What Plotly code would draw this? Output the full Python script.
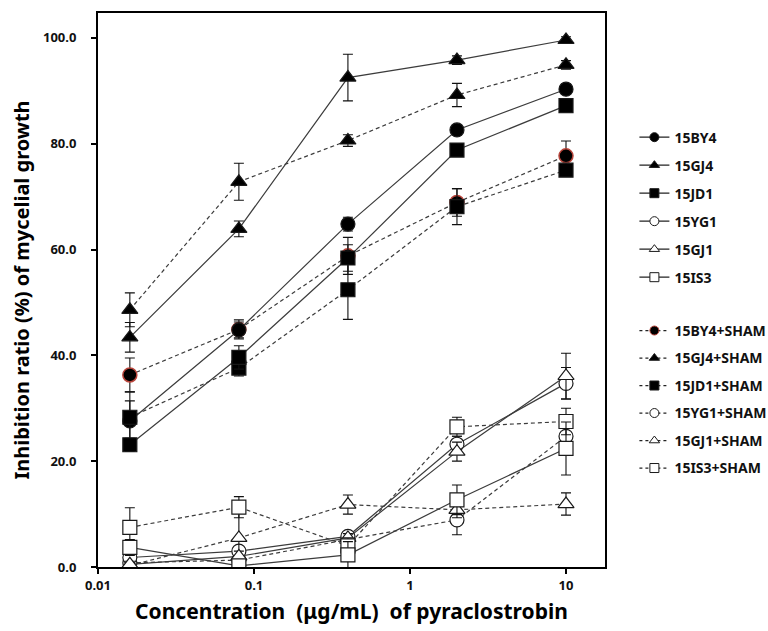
import plotly.graph_objects as go

conc = [0.016, 0.08, 0.4, 2, 10]

names = ["15BY4", "15GJ4", "15JD1", "15YG1", "15GJ1", "15IS3"]
names_sham = [n + "+SHAM" for n in names]

by4 = [27.6, 44.8, 64.8, 82.6, 90.3]
by4_err = [3.8, 1.5, 1.3, 1.0, 1.0]
gj4 = [43.4, 63.9, 92.5, 95.8, 99.6]
gj4_err = [2.8, 1.5, 4.4, 0.8, 0.6]
jd1 = [23.1, 39.6, 58.4, 78.8, 87.2]
jd1_err = [1.2, 2.2, 2.5, 1.2, 0.8]
yg1 = [1.8, 3.0, 5.8, 23.2, 34.7]
yg1_err = [1.0, 0.8, 0.8, 1.5, 3.0]
gj1 = [0.5, 2.0, 5.5, 21.8, 36.1]
gj1_err = [0.6, 1.0, 0.8, 1.8, 4.3]
is3 = [3.7, 0.2, 2.3, 12.7, 22.4]
is3_err = [1.5, 0.5, 2.5, 2.8, 5.0]

by4_s = [36.3, 44.9, 58.8, 68.9, 77.7]
by4_s_err = [3.2, 1.8, 3.5, 2.6, 2.8]
gj4_s = [48.6, 72.8, 80.6, 89.2, 94.9]
gj4_s_err = [3.2, 3.5, 1.1, 2.2, 0.8]
jd1_s = [28.3, 37.6, 52.4, 68.1, 75.0]
jd1_s_err = [4.8, 1.5, 5.6, 3.4, 0.8]
yg1_s = [0.8, 1.3, 5.2, 8.9, 24.7]
yg1_s_err = [0.8, 0.8, 1.0, 2.8, 2.8]
gj1_s = [0.3, 5.5, 11.8, 10.8, 11.9]
gj1_s_err = [0.5, 5.0, 1.8, 1.5, 2.1]
is3_s = [7.5, 11.3, 4.0, 26.5, 27.5]
is3_s_err = [3.7, 2.0, 1.5, 1.8, 2.5]

y_ticks = [0, 20, 40, 60, 80, 100]
x_ticks = [0.01, 0.1, 1, 10]
x_tick_labels = ["0.01", "0.1", "1", "10"]

solid_vals = [by4, gj4, jd1, yg1, gj1, is3]
solid_errs = [by4_err, gj4_err, jd1_err, yg1_err, gj1_err, is3_err]
sham_vals = [by4_s, gj4_s, jd1_s, yg1_s, gj1_s, is3_s]
sham_errs = [by4_s_err, gj4_s_err, jd1_s_err, yg1_s_err, gj1_s_err, is3_s_err]

symbols = ["circle", "triangle-up", "square", "circle", "triangle-up", "square"]
fills = ["black", "black", "black", "white", "white", "white"]
edge = "#1a1a1a"
line_col = "#3c3c3c"
font_family = "Noto Sans"

fig = go.Figure()

# open markers drawn first so filled ones sit on top
order = [3, 4, 5, 0, 1, 2]
for i in order:
    for vals, errs, dash, nm, shamflag in [
        (sham_vals[i], sham_errs[i], "4px,3px", names_sham[i], True),
        (solid_vals[i], solid_errs[i], "solid", names[i], False),
    ]:
        mline = edge
        mlw = 1.2
        if shamflag and i == 0:
            mline = "#b8443a"
            mlw = 1.5
        fig.add_trace(go.Scatter(
            x=conc, y=vals, mode="lines+markers", name=nm, showlegend=False,
            line=dict(color=line_col, width=1.2, dash=dash),
            marker=dict(symbol=symbols[i], size=14, color=fills[i],
                        line=dict(color=mline, width=mlw)),
            error_y=dict(type="data", array=errs, visible=True,
                         color="#111111", thickness=1.1, width=5),
        ))

# legend entries
for i in range(6):
    fig.add_trace(go.Scatter(
        x=[None], y=[None], mode="lines+markers", name=names[i],
        legend="legend", legendgroup="a%d" % i,
        line=dict(color="#222222", width=1.2),
        marker=dict(symbol=symbols[i], size=9, color=fills[i],
                    line=dict(color=edge, width=1)),
    ))
for i in range(6):
    mline = "#b8443a" if i == 0 else edge
    fig.add_trace(go.Scatter(
        x=[None], y=[None], mode="lines+markers", name=names_sham[i],
        legend="legend2", legendgroup="b%d" % i,
        line=dict(color="#222222", width=1.2, dash="3px,3px"),
        marker=dict(symbol=symbols[i], size=9, color=fills[i],
                    line=dict(color=mline, width=1)),
    ))

legend_common = dict(
    font=dict(family=font_family, size=14, color="#111111", weight="bold"),
    bgcolor="rgba(0,0,0,0)", borderwidth=0,
    traceorder="grouped",
    xanchor="left", yanchor="top", itemwidth=30,
)

fig.update_layout(
    width=768, height=631,
    margin=dict(l=98, r=163, t=13, b=64, autoexpand=False),
    plot_bgcolor="white", paper_bgcolor="white",
    font=dict(family=font_family, color="#111111"),
    showlegend=True,
    legend=dict(x=1.058, y=0.804, tracegroupgap=6.8, **legend_common),
    legend2=dict(x=1.058, y=0.455, tracegroupgap=6.3, **legend_common),
    xaxis=dict(
        type="log", range=[-2, 1.25],
        tickvals=x_ticks, ticktext=x_tick_labels,
        ticks="outside", ticklen=5, tickwidth=2, tickcolor="black",
        showline=True, linecolor="black", linewidth=2, mirror=True,
        showgrid=False, zeroline=False,
        tickfont=dict(family=font_family, size=13, color="#111111", weight="bold"),
        title=dict(text="Concentration  (μg/mL)  of pyraclostrobin",
                   font=dict(family=font_family, size=21, color="black", weight="bold"),
                   standoff=12),
    ),
    yaxis=dict(
        range=[0, 104.7],
        tickvals=y_ticks, tickformat=".1f",
        ticks="outside", ticklen=5, tickwidth=2, tickcolor="black",
        showline=True, linecolor="black", linewidth=2, mirror=True,
        showgrid=False, zeroline=False,
        ticklabelstandoff=12,
        tickfont=dict(family=font_family, size=13, color="#111111", weight="bold"),
        title=dict(text="Inhibition ratio (%) of mycelial growth",
                   font=dict(family=font_family, size=20, color="black", weight="bold"),
                   standoff=8),
    ),
)

fig.write_html("out.html", config={"displayModeBar": False},
               post_script="document.body.style.margin='0';")
